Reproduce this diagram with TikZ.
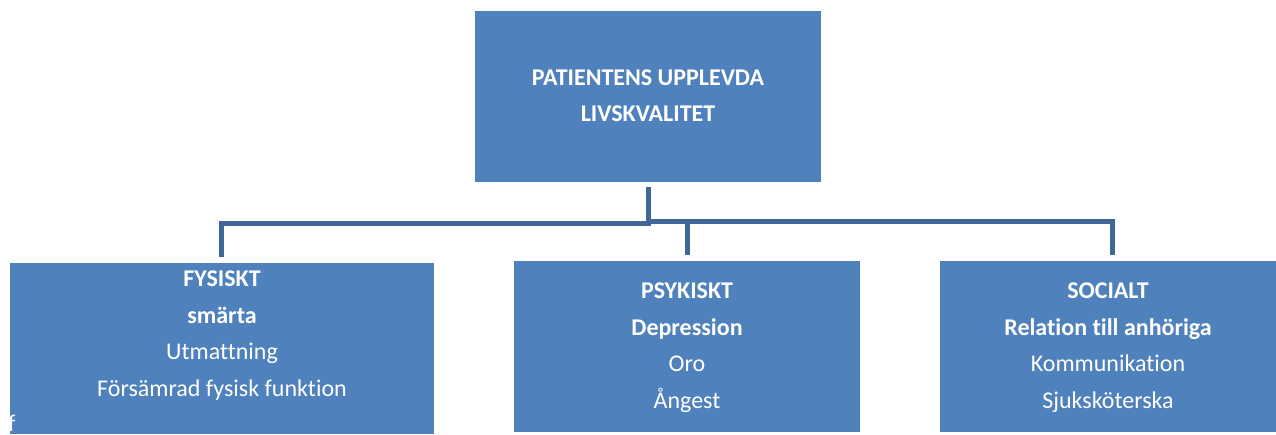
\documentclass[tikz,border=0pt]{standalone}
\usepackage{fontspec}
\setmainfont{Carlito}[Ligatures=NoCommon]
\definecolor{boxblue}{RGB}{79,129,189}
\definecolor{lineblue}{RGB}{63,103,152}
\begin{document}
\begin{tikzpicture}[x=1pt,y=-1pt,
  box/.style={rectangle, fill=boxblue, draw=none, inner sep=0, anchor=north west},
  txt/.style={text=white, inner sep=0, anchor=base, font=\fontsize{24}{36}\selectfont},
  btxt/.style={txt, font=\fontsize{24}{36}\selectfont\bfseries},
  conn/.style={draw=lineblue, line width=5pt, line join=miter}]
\useasboundingbox (0,0) rectangle (1276,434);
% boxes
\node[box, minimum width=346, minimum height=171] (top) at (475,11) {};
\node[box, minimum width=424, minimum height=171] (fys) at (10,263) {};
\node[box, minimum width=346, minimum height=171] (psy) at (514,261) {};
\node[box, minimum width=336, minimum height=171] (soc) at (940,261) {};
% top text
\node[btxt] (t1) at (648,85) {PATIENTENS UPPLEVDA};
\node[btxt] (t2) at (648,121.7) {LIVSKVALITET};
% left
\node[btxt] (f1) at (222,286) {FYSISKT};
\node[btxt] (f2) at (222,323) {smärta};
\node[txt] (f3) at (222,359.7) {Utmattning};
\node[txt] (f4) at (222,396.3) {Försämrad fysisk funktion};
\node[txt, anchor=base west] (f5) at (8,431) {f};
% middle
\node[btxt] (p1) at (687,298.5) {PSYKISKT};
\node[btxt] (p2) at (687,335.2) {Depression};
\node[txt] (p3) at (687,371.8) {Oro};
\node[txt] (p4) at (687,408.4) {Ångest};
% right
\node[btxt] (s1) at (1108,298.5) {SOCIALT};
\node[btxt] (s2) at (1108,335.2) {Relation till anhöriga};
\node[txt] (s3) at (1108,371.8) {Kommunikation};
\node[txt] (s4) at (1108,408.4) {Sjuksköterska};
% connectors
\coordinate (tb) at (648,187);
\coordinate (hl) at (648,223.5);
\coordinate (fl) at (221.5,257);
\coordinate (hr) at (648,221.5);
\coordinate (sl) at (1112.5,255);
\coordinate (pm) at (687,221.5);
\coordinate (pl) at (687,255);
\draw[conn] (tb) -- (hl) -| (fl);
\draw[conn] (hr) -| (sl);
\draw[conn] (pm) -- (pl);
\end{tikzpicture}
\end{document}
